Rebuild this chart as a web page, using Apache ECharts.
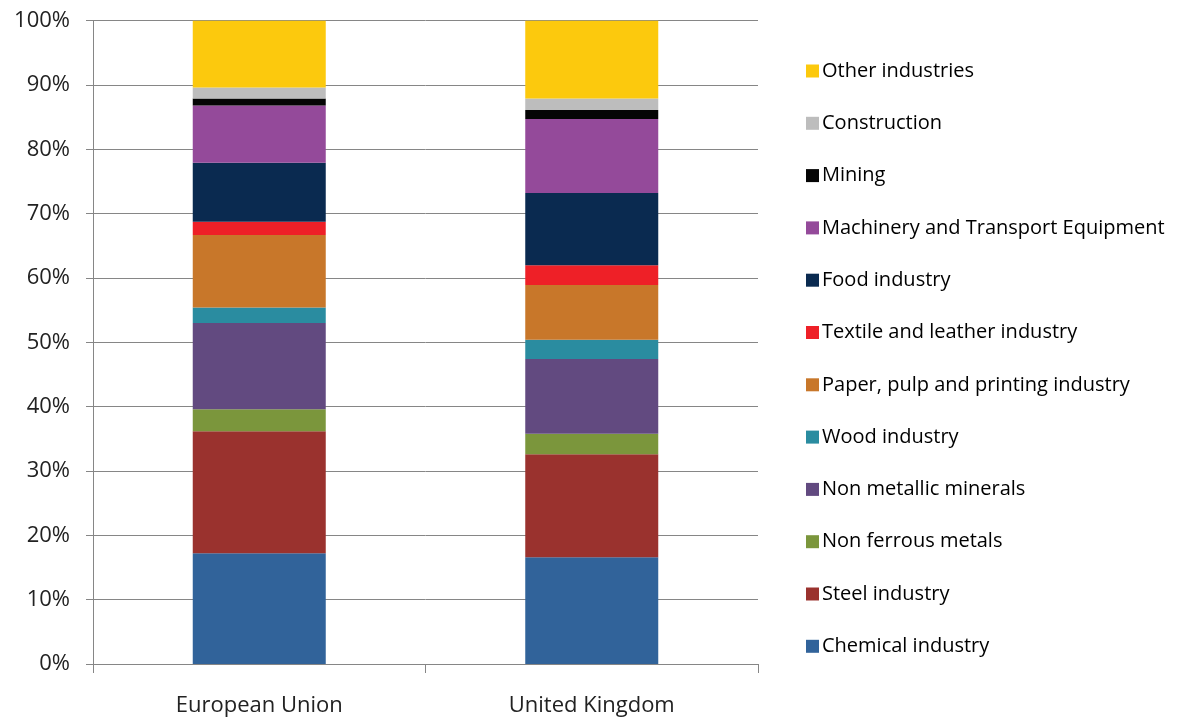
<!DOCTYPE html>
<html>
<head>
<meta charset="utf-8">
<script src="https://cdn.jsdelivr.net/npm/echarts@6/dist/echarts.min.js"></script>
<style>html,body{margin:0;padding:0;background:#fff;}#c{width:1184px;height:720px;}</style>
</head>
<body>
<div id="c"></div>
<script>
const categories = ['European Union', 'United Kingdom'];
const seriesNames = ['Chemical industry', 'Steel industry', 'Non ferrous metals', 'Non metallic minerals', 'Wood industry', 'Paper, pulp and printing industry', 'Textile and leather industry', 'Food industry', 'Machinery and Transport Equipment', 'Mining', 'Construction', 'Other industries'];
const chemical = [17.2, 16.6];
const steel = [19.0, 16.0];
const nonFerrous = [3.4, 3.2];
const nonMetallic = [13.4, 11.6];
const wood = [2.4, 3.0];
const paper = [11.3, 8.5];
const textile = [2.05, 3.1];
const food = [9.15, 11.2];
const machinery = [8.9, 11.5];
const mining = [1.1, 1.4];
const construction = [1.7, 1.8];
const other = [10.4, 12.1];
const yTicks = ['0%', '10%', '20%', '30%', '40%', '50%', '60%', '70%', '80%', '90%', '100%'];

const values = [chemical, steel, nonFerrous, nonMetallic, wood, paper, textile, food, machinery, mining, construction, other];
const colors = ['#31639a', '#9a322e', '#7b963c', '#624a80', '#2a8ca0', '#c8772a', '#ee2027', '#0a2a50', '#944a9a', '#050505', '#bdbdbd', '#fcc90d'];
const font = '"Open Sans", Lato, sans-serif';

const chart = echarts.init(document.getElementById('c'), null, {renderer: 'canvas'});
chart.setOption({
  animation: false,
  grid: {left: 93, right: 426, top: 20.7, bottom: 56, containLabel: false},
  legend: {
    orient: 'vertical',
    left: 801,
    top: 55,
    itemWidth: 13,
    itemHeight: 13,
    itemGap: 30.3,
    icon: 'rect',
    data: seriesNames.slice().reverse(),
    textStyle: {fontFamily: font, fontSize: 20, color: '#000', padding: [0, 0, 0, -2], lineHeight: 22}
  },
  xAxis: {
    type: 'category',
    data: categories,
    axisLine: {lineStyle: {color: '#868686', width: 1}},
    axisTick: {show: true, length: 9, lineStyle: {color: '#868686'}},
    axisLabel: {fontFamily: font, fontSize: 22, color: '#222', margin: 31}
  },
  yAxis: {
    type: 'value',
    min: 0, max: 100, interval: 10,
    axisLine: {show: true, lineStyle: {color: '#868686', width: 1}},
    axisTick: {show: true, length: 7, lineStyle: {color: '#868686'}},
    splitLine: {lineStyle: {color: '#868686', width: 1}},
    axisLabel: {fontFamily: font, fontSize: 22, color: '#222', margin: 23,
      formatter: function (v) { return yTicks[Math.round(v / 10)]; }}
  },
  series: seriesNames.map(function (n, i) {
    return {
      name: n, type: 'bar', stack: 'total', barWidth: '40%',
      data: values[i],
      itemStyle: {color: colors[i]}
    };
  })
});
</script>
</body>
</html>
